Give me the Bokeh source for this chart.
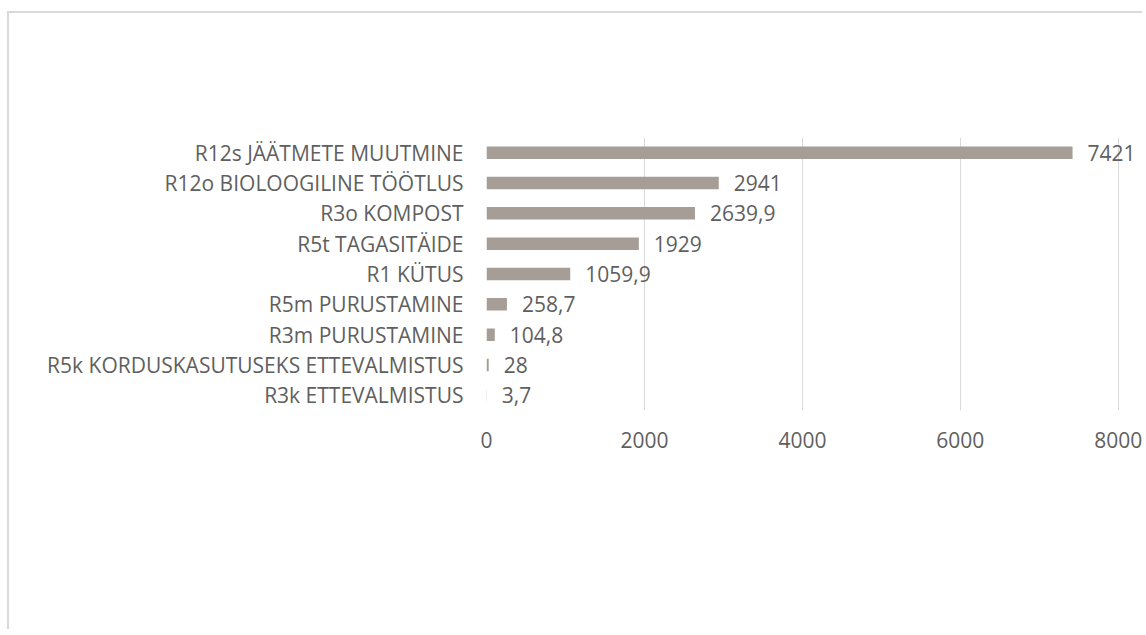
from bokeh.plotting import figure
from bokeh.models import ColumnDataSource, LabelSet, FactorRange, FixedTicker
from bokeh.core.properties import value
from bokeh.embed import file_html
from bokeh.resources import INLINE

categories = [
    "R12s JÄÄTMETE MUUTMINE",
    "R12o BIOLOOGILINE TÖÖTLUS",
    "R3o KOMPOST",
    "R5t TAGASITÄIDE",
    "R1 KÜTUS",
    "R5m PURUSTAMINE",
    "R3m PURUSTAMINE",
    "R5k KORDUSKASUTUSEKS ETTEVALMISTUS",
    "R3k ETTEVALMISTUS",
]
values = [7421, 2941, 2639.9, 1929, 1059.9, 258.7, 104.8, 28, 3.7]
x_ticks = [0, 2000, 4000, 6000, 8000]

labels = [f"{v:g}".replace(".", ",") for v in values]

FONT = "Open Sans"
TXT = "#5f5f5f"
GRID = "#d9d9d9"
BAR = "#a69e96"
FS = "21px"

src = ColumnDataSource(dict(cat=categories, val=values, lab=labels))

p = figure(
    width=1135, height=618,
    y_range=FactorRange(factors=list(reversed(categories))),
    x_range=(0, 8332),
    output_backend="svg", toolbar_location=None,
    min_border_left=477, min_border_right=0,
    min_border_top=124, min_border_bottom=221,
)
p.styles = {"border-top": "2px solid #d9d9d9", "border-left": "2px solid #d9d9d9",
            "margin-top": "11px", "margin-left": "7px"}
p.outline_line_color = None
p.background_fill_color = "white"
p.border_fill_color = "white"

p.hbar(y="cat", right="val", left=0, height=0.41, source=src,
       fill_color=BAR, line_color=None)

p.add_layout(LabelSet(x="val", y="cat", text="lab", source=src,
                      x_offset=15, text_baseline="middle", text_align="left",
                      text_font=value(FONT), text_font_size=FS, text_color=TXT))

p.ygrid.grid_line_color = None
p.xgrid.grid_line_color = GRID
p.xgrid.grid_line_width = 1
p.xaxis.ticker = FixedTicker(ticks=x_ticks)
p.xgrid.ticker = FixedTicker(ticks=x_ticks)

for ax in (p.xaxis, p.yaxis):
    ax.axis_line_color = None
    ax.major_tick_line_color = None
    ax.minor_tick_line_color = None
    ax.major_tick_in = 0
    ax.major_tick_out = 0
    ax.major_label_text_font = FONT
    ax.major_label_text_font_size = FS
    ax.major_label_text_color = TXT

p.yaxis.major_label_standoff = 23
p.xaxis.major_label_standoff = 21

open("out.html", "w").write(file_html(p, INLINE))
